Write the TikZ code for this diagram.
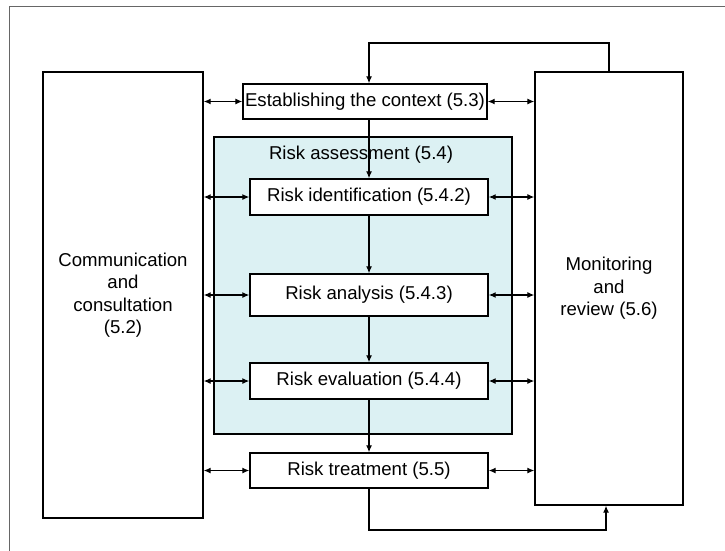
\documentclass[tikz,border=0pt]{standalone}
\usepackage{fontspec}
\setmainfont{Liberation Sans}
\usepackage{tikz}
\usetikzlibrary{calc,arrows.meta}
\definecolor{assessfill}{RGB}{220,241,243}

\begin{document}
\begin{tikzpicture}[x=1pt, y=-1pt, >={Latex[length=7pt,width=6pt]},
	blockbox/.style={draw, line width=1.4pt, fill=white, inner sep=0pt, align=center,
		font=\fontsize{18.6pt}{22.5pt}\selectfont},
	link/.style={line width=1.2pt}]
	\useasboundingbox (0,0) rectangle (725,551);
	\draw[gray!80!black, line width=1pt] (9,551) -- (9,7) -- (725,7);
	\node[blockbox, minimum width=160, minimum height=446] (comm) at (123,295) {Communication\\and\\consultation\\(5.2)};
	\node[blockbox, minimum width=148, minimum height=433] (monitor) at (609,288.5) {Monitoring\\and\\review (5.6)};
	\node[blockbox, minimum width=298, minimum height=297, fill=assessfill] (assess) at (363,285.5) {};
	\node[font=\fontsize{18.6pt}{22.5pt}\selectfont] (assesslabel) at (361,155) {Risk assessment (5.4)};
	\node[blockbox, minimum width=244, minimum height=35] (context) at (365,101.5) {Establishing the context (5.3)};
	\node[blockbox, minimum width=238, minimum height=36] (ident) at (369,197) {Risk identification (5.4.2)};
	\node[blockbox, minimum width=238, minimum height=42] (analysis) at (369,295) {Risk analysis (5.4.3)};
	\node[blockbox, minimum width=238, minimum height=36] (evaluation) at (369,381) {Risk evaluation (5.4.4)};
	\node[blockbox, minimum width=238, minimum height=35] (treatment) at (369,470.5) {Risk treatment (5.5)};
	\coordinate (topturn) at (369,43);
	\coordinate (botturn) at (606,530);
	\draw[link, ->] (context.south -| ident.north) -- (ident.north);
	\draw[link, ->] (ident) -- (analysis);
	\draw[link, ->] (analysis) -- (evaluation);
	\draw[link, ->] (evaluation) -- (treatment);
	\draw[link, ->] (monitor.north) |- (topturn) -- (context.north -| topturn);
	\draw[link, ->] (treatment.south) |- (botturn) -- (botturn |- monitor.south);
	\foreach \b in {context, ident, analysis, evaluation, treatment} {
		\draw[link, <->] (comm.east |- \b.west) -- (\b.west);
		\draw[link, <->] (\b.east) -- (monitor.west |- \b.east);
	}
\end{tikzpicture}
\end{document}
